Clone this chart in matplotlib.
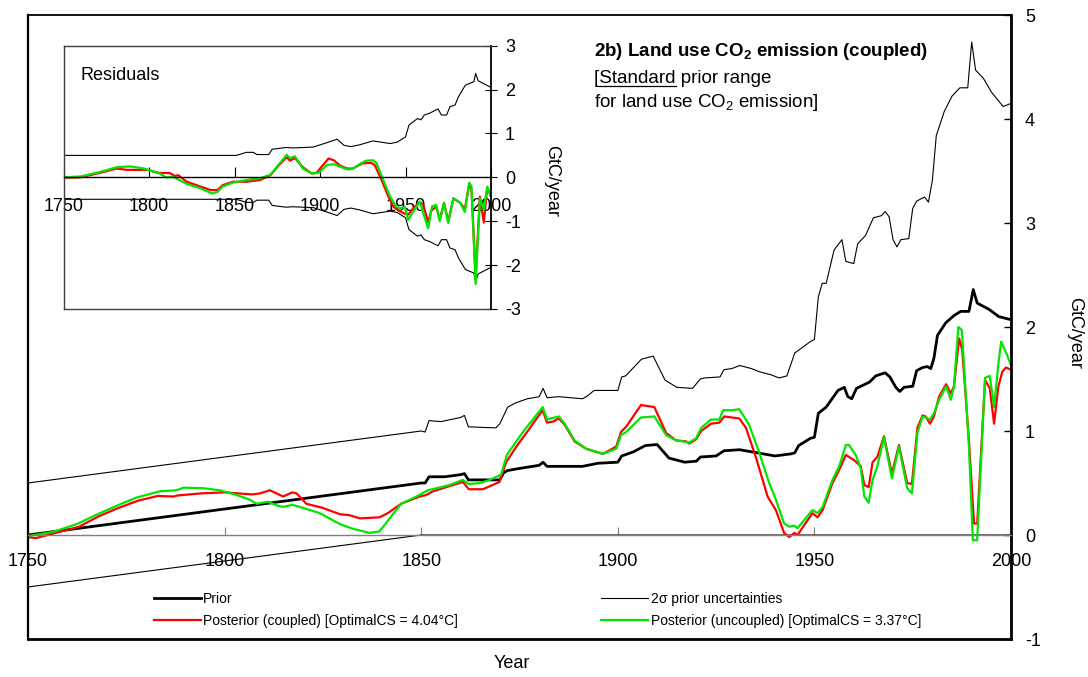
import matplotlib
matplotlib.use("Agg")
import matplotlib.pyplot as plt
from matplotlib.lines import Line2D

plt.rcParams['font.family'] = ['Liberation Sans', 'DejaVu Sans']
plt.rcParams['mathtext.fontset'] = 'custom'
plt.rcParams['mathtext.rm'] = 'Liberation Sans'
plt.rcParams['mathtext.bf'] = 'Liberation Sans:bold'
plt.rcParams['axes.unicode_minus'] = False

# ---- main panel data (GtC/year) ----
prior_yr = [1750, 1800, 1850, 1851, 1852, 1856, 1860, 1861, 1862, 1870, 1871, 1872, 1875, 1880,
            1881, 1882, 1891, 1895, 1900, 1901, 1904, 1907, 1910, 1913, 1917, 1920, 1921, 1925,
            1927, 1931, 1934, 1937, 1940, 1944, 1945, 1946, 1949, 1950, 1951, 1953, 1956, 1957.6,
            1958.5, 1959.5, 1960.7, 1964, 1965.6, 1968, 1969.2, 1970.7, 1971.7, 1972.8, 1975,
            1976, 1977.5, 1978.7, 1979.6, 1980.4, 1981.3, 1983.4, 1985.5, 1987.2, 1989.3, 1990.4,
            1991.4, 1994.4, 1996.9, 2000]
prior = [0.0, 0.25, 0.50, 0.50, 0.56, 0.56, 0.58, 0.59, 0.53, 0.53, 0.60, 0.62, 0.64, 0.67,
         0.70, 0.66, 0.66, 0.69, 0.70, 0.76, 0.80, 0.86, 0.87, 0.74, 0.70, 0.71, 0.75, 0.76,
         0.81, 0.82, 0.80, 0.78, 0.76, 0.78, 0.79, 0.86, 0.93, 0.94, 1.17, 1.23, 1.39, 1.42,
         1.33, 1.31, 1.41, 1.47, 1.53, 1.56, 1.52, 1.42, 1.38, 1.42, 1.43,
         1.58, 1.61, 1.62, 1.60, 1.70, 1.92, 2.04, 2.11, 2.15, 2.15, 2.36,
         2.23, 2.17, 2.10, 2.07]

upper_yr = [1750, 1850, 1851, 1852, 1855, 1860, 1861, 1862, 1869, 1870, 1872, 1874, 1877, 1880,
            1881, 1882, 1885, 1891, 1892, 1894, 1900, 1901, 1902, 1906, 1909, 1912, 1915, 1919,
            1921, 1922, 1926, 1927, 1929, 1931, 1934, 1936, 1939, 1941, 1943, 1945, 1949, 1950,
            1951, 1952, 1953, 1955, 1957, 1958, 1960, 1961, 1963, 1965, 1967, 1968, 1969, 1970,
            1971, 1972, 1974, 1975, 1976, 1978, 1979, 1980, 1981, 1983, 1985, 1987, 1989, 1990,
            1991, 1993, 1995, 1998, 2000]
upper = [0.50, 1.00, 0.99, 1.10, 1.09, 1.13, 1.15, 1.04, 1.03, 1.07, 1.23, 1.27, 1.31, 1.33,
         1.41, 1.32, 1.33, 1.31, 1.33, 1.39, 1.39, 1.52, 1.53, 1.69, 1.72, 1.49, 1.42, 1.41,
         1.50, 1.51, 1.52, 1.59, 1.60, 1.63, 1.60, 1.57, 1.54, 1.51, 1.53, 1.75, 1.86, 1.88,
         2.29, 2.42, 2.42, 2.74, 2.84, 2.63, 2.61, 2.80, 2.88, 3.05, 3.07, 3.11, 3.06, 2.84,
         2.77, 2.84, 2.85, 3.14, 3.21, 3.25, 3.20, 3.41, 3.84, 4.07, 4.22, 4.30, 4.30, 4.74,
         4.47, 4.39, 4.26, 4.12, 4.15]

lower_yr = [1750, 1850, 2000]
lower = [-0.50, 0.0, 0.0]

coupled_yr = [1750, 1752, 1756, 1763, 1768, 1773, 1778, 1783, 1787, 1788, 1794, 1800, 1807,
              1809, 1811.5, 1814.9, 1817.2, 1818.3, 1820.8, 1825, 1829.3, 1831.8, 1834.4, 1839.4,
              1841.5, 1844.9, 1849.6, 1851.3, 1853, 1860.6, 1862.1, 1865.7, 1869.9, 1871.6,
              1874.2, 1877.5, 1878.4, 1880.9, 1882, 1883.5, 1885, 1886.5, 1889, 1891.9, 1896.2,
              1899.6, 1900.8, 1902.1, 1905.9, 1909.3, 1912.3, 1914.8, 1917.4, 1918.2, 1919.9,
              1921.2, 1923.7, 1925.8, 1927.1, 1930.9, 1932.6, 1935.1, 1938.1, 1940.2, 1942.3,
              1943.6, 1944.9, 1945.7, 1949.5, 1950.8, 1952.1, 1954.6, 1956.3, 1958, 1960.1,
              1961.8, 1962.7, 1963.8, 1964.8, 1966, 1967.7, 1969.7, 1971.5, 1973.6, 1974.8,
              1976.2, 1977.5, 1978.3, 1979.4, 1980.4, 1981.7, 1983.5, 1984.7, 1985.5, 1986.8,
              1987.6, 1989.3, 1990.6, 1991.4, 1993.4, 1994.6, 1995.7, 1996.8, 1997.8, 1998.7, 2000]
coupled = [-0.02, -0.03, 0.01, 0.08, 0.18, 0.26, 0.33, 0.375, 0.37, 0.38, 0.40, 0.41, 0.39,
           0.40, 0.43, 0.37, 0.41, 0.40, 0.30, 0.26, 0.20, 0.19, 0.16, 0.17,
           0.21, 0.30, 0.37, 0.385, 0.42, 0.51, 0.44, 0.44, 0.51, 0.70,
           0.85, 1.02, 1.07, 1.20, 1.08, 1.09, 1.12, 1.06, 0.90, 0.83, 0.78,
           0.85, 0.99, 1.04, 1.25, 1.23, 0.98, 0.91, 0.90, 0.88, 0.92,
           1.00, 1.07, 1.08, 1.14, 1.12, 1.03, 0.75, 0.37, 0.24, 0.02,
           -0.02, 0.02, 0.0, 0.21, 0.17, 0.24, 0.50, 0.625, 0.77, 0.72,
           0.66, 0.48, 0.46, 0.70, 0.75, 0.95, 0.59, 0.865, 0.50, 0.49,
           1.03, 1.15, 1.14, 1.07, 1.14, 1.33, 1.45, 1.36, 1.43, 1.89,
           1.78, 0.91, 0.11, 0.11, 1.49, 1.41, 1.07, 1.43, 1.57, 1.61, 1.59]

uncoupled_yr = [1750, 1756.4, 1762.4, 1768.3, 1773.4, 1777.6, 1783.5, 1787.8, 1789.5, 1794.5,
                1798.8, 1803, 1806.4, 1808.1, 1811, 1813.6, 1814.9, 1817.2, 1820, 1824.2,
                1829.3, 1832.6, 1836.9, 1839.4, 1844.9, 1848.8, 1851.7, 1857.2, 1860.6, 1862.1,
                1864.9, 1867.4, 1870.3, 1871.8, 1875, 1877.5, 1878.4, 1880.9, 1882, 1885, 1886.5,
                1889, 1891.9, 1896.2, 1899.6, 1900.8, 1902.1, 1905.9, 1909.3, 1912.3, 1914.8,
                1918.2, 1919.9, 1921.2, 1923.7, 1925.8, 1926.8, 1929.2, 1930.9, 1933.4, 1935.9,
                1938.5, 1940.2, 1942.3, 1943.6, 1944.9, 1945.7, 1949.5, 1950.8, 1952.1, 1954.6,
                1956.3, 1958, 1958.8, 1960.5, 1961.8, 1962.7, 1963.8, 1964.8, 1966, 1967.7,
                1969.7, 1971.5, 1973.6, 1974.8, 1976.2, 1977.5, 1978.3, 1979.4, 1980.4, 1981.7,
                1983.5, 1984.7, 1985.5, 1986.6, 1987.5, 1989.3, 1990.3, 1991.4, 1993.4, 1994.6,
                1995.7, 1996.8, 1997.5, 1999, 2000]
uncoupled = [-0.01, 0.03, 0.105, 0.21, 0.295, 0.36, 0.42, 0.43, 0.455, 0.45,
             0.43, 0.385, 0.34, 0.30, 0.32, 0.28, 0.27, 0.29, 0.26, 0.21,
             0.105, 0.06, 0.02, 0.035, 0.30, 0.37, 0.43, 0.48, 0.53, 0.49,
             0.50, 0.53, 0.58, 0.77, 0.945, 1.07, 1.11, 1.23, 1.11, 1.14, 1.07,
             0.91, 0.83, 0.78, 0.83, 0.96, 0.99, 1.13, 1.14, 0.96, 0.91,
             0.89, 0.93, 1.03, 1.11, 1.11, 1.20, 1.20, 1.21, 1.06, 0.80,
             0.50, 0.34, 0.11, 0.08, 0.09, 0.065, 0.24, 0.21, 0.27, 0.53,
             0.66, 0.865, 0.865, 0.77, 0.64, 0.37, 0.31, 0.53, 0.66, 0.94,
             0.545, 0.85, 0.45, 0.40, 0.98, 1.14, 1.13, 1.11, 1.17, 1.30,
             1.43, 1.30, 1.43, 2.00, 1.97, 0.85, -0.05, -0.05, 1.51, 1.53,
             1.23, 1.65, 1.86, 1.73, 1.63]

# ---- inset (residuals) data ----
res_c_yr = [1750, 1760, 1771, 1781, 1787, 1799, 1806, 1812, 1815, 1817, 1822, 1830, 1836, 1840,
            1843, 1849, 1857, 1865, 1871, 1876, 1880.5, 1882.4, 1885.3, 1890, 1895, 1898, 1900,
            1905, 1908, 1912, 1916, 1919, 1923, 1925, 1930, 1932, 1936, 1940, 1943, 1946, 1949,
            1951.6, 1954.5, 1958.4, 1960.4, 1963.3, 1965, 1968, 1970, 1972.5, 1975, 1978, 1982,
            1984.7, 1987.3, 1988.6, 1991, 1993.5, 1995.8, 1997.8, 2000]
res_c = [-0.01, 0.0, 0.10, 0.20, 0.17, 0.17, 0.10, 0.10, 0.03, 0.05, -0.10, -0.21, -0.29, -0.29,
         -0.18, -0.10, -0.10, -0.06, 0.05, 0.28, 0.46, 0.38, 0.44, 0.23, 0.09, 0.10, 0.20,
         0.43, 0.39, 0.26, 0.20, 0.20, 0.28, 0.32, 0.33, 0.28, -0.06, -0.44, -0.67, -0.76, -0.82,
         -0.85, -0.71, -0.56, -0.63, -1.03, -0.76, -0.67, -0.97, -0.58, -1.00, -0.48, -0.58,
         -0.73, -0.14, -0.29, -2.26, -0.44, -1.03, -0.22, -0.44]

res_u_yr = [1750, 1760, 1771, 1781, 1789, 1797, 1806, 1810, 1814, 1822, 1830, 1837, 1840, 1843,
            1849, 1857, 1865, 1871, 1876, 1880.5, 1882.4, 1885.3, 1890, 1895, 1899, 1904, 1908,
            1912, 1916, 1919, 1924, 1927, 1931, 1933, 1937, 1941, 1944, 1946.6, 1949.6, 1951.6,
            1954.5, 1958.4, 1960.4, 1963.3, 1965.5, 1968, 1970, 1972.5, 1975, 1978, 1982, 1984.7,
            1987.3, 1988.6, 1991, 1993.5, 1995.8, 1997.8, 2000]
res_u = [0.0, 0.02, 0.12, 0.23, 0.25, 0.20, 0.09, 0.0, 0.01, -0.15, -0.25, -0.37, -0.33, -0.21,
         -0.12, -0.06, -0.02, 0.06, 0.30, 0.51, 0.44, 0.48, 0.20, 0.09, 0.10, 0.28, 0.30,
         0.24, 0.18, 0.19, 0.32, 0.38, 0.39, 0.33, -0.06, -0.44, -0.64, -0.71, -0.67, -0.97,
         -0.78, -0.55, -0.82, -1.16, -0.66, -0.63, -1.00, -0.58, -1.04, -0.48, -0.58, -0.79,
         -0.12, -0.21, -2.43, -0.48, -0.74, -0.21, -0.44]

res_unc_yr = [1750, 1851, 1857, 1861, 1863, 1870, 1872, 1880, 1884, 1896, 1904, 1910, 1914, 1918,
              1923, 1931, 1941, 1945, 1950, 1952, 1957, 1959, 1961, 1964, 1969, 1971, 1974, 1976,
              1979, 1981, 1985, 1990, 1991, 1992.5, 2000]
res_unc = [0.50, 0.50, 0.57, 0.57, 0.52, 0.52, 0.64, 0.68, 0.67, 0.69, 0.79, 0.87, 0.73, 0.70,
           0.74, 0.83, 0.77, 0.80, 0.92, 1.19, 1.34, 1.31, 1.42, 1.46, 1.56, 1.42, 1.42, 1.61,
           1.65, 1.84, 2.10, 2.18, 2.37, 2.20, 2.05]

year_ticks = [1750, 1800, 1850, 1900, 1950, 2000]
main_yticks = [-1, 0, 1, 2, 3, 4, 5]
inset_yticks = [-3, -2, -1, 0, 1, 2, 3]

RED = '#ff0000'
GREEN = '#00e600'

fig = plt.figure(figsize=(10.88, 6.77), dpi=100)

# ---- main panel ----
ax = fig.add_axes([28 / 1088, 38 / 677, 983 / 1088, 624 / 677])
ax.plot(upper_yr, upper, color='black', lw=0.8)
l_unc, = ax.plot(lower_yr, lower, color='black', lw=0.8, label='2σ prior uncertainties')
l_prior, = ax.plot(prior_yr, prior, color='black', lw=2.0, label='Prior')
l_red, = ax.plot(coupled_yr, coupled, color=RED, lw=1.6,
                 label='Posterior (coupled) [OptimalCS = 4.04°C]')
l_green, = ax.plot(uncoupled_yr, uncoupled, color=GREEN, lw=1.6,
                   label='Posterior (uncoupled) [OptimalCS = 3.37°C]')

ax.set_xlim(1750, 2000)
ax.set_ylim(-1, 5)
ax.set_xticks(year_ticks)
ax.set_yticks(main_yticks)
ax.spines['bottom'].set_position(('data', 0))
ax.spines['bottom'].set_color('#808080')
ax.spines['bottom'].set_linewidth(1.0)
ax.spines['left'].set_linewidth(1.6)
ax.spines['top'].set_linewidth(1.3)
ax.spines['right'].set_linewidth(2.0)
ax.plot([0, 1], [0, 0], transform=ax.transAxes, color='black', lw=2.0, clip_on=False)
ax.yaxis.tick_right()
ax.tick_params(axis='x', direction='in', length=6, color='#808080', labelsize=13, pad=13)
ax.tick_params(axis='y', direction='in', length=5, width=1, labelsize=13, pad=10)
fig.text(512 / 1088, 1 - 663 / 677, 'Year', fontsize=13, ha='center', va='center')
fig.text(1075 / 1088, 1 - 333 / 677, 'GtC/year', fontsize=13, ha='center', va='center',
         rotation=270)

ax.legend([l_prior, l_red, l_unc, l_green],
          [l_prior.get_label(), l_red.get_label(), l_unc.get_label(), l_green.get_label()],
          ncol=2, loc='upper left', bbox_to_anchor=(154 / 1088, 1 - 592 / 677),
          bbox_transform=fig.transFigure, frameon=False, fontsize=10,
          handlelength=3.4, handletextpad=0.15, columnspacing=10.3, labelspacing=0.55,
          borderpad=0, borderaxespad=0)

# ---- text block ----
tx = 594 / 1088
fig.text(tx, 1 - 55.7 / 677, r'2b) Land use CO$_\mathbf{2}$ emission (coupled)',
         fontsize=13.5, fontweight='bold', va='baseline')
line2 = '[Standard prior range'
fig.text(tx, 1 - 82.7 / 677, line2, fontsize=13.5, va='baseline')
fig.text(tx, 1 - 106.7 / 677, r'for land use CO$_2$ emission]', fontsize=13.5, va='baseline')

# ---- inset ----
ins = fig.add_axes([63.6 / 1088, 1 - 309 / 677, 427.4 / 1088, 263.3 / 677])
ins.plot(res_unc_yr, res_unc, color='black', lw=0.8)
ins.plot(res_unc_yr, [-v for v in res_unc], color='black', lw=0.8)
ins.plot(res_c_yr, res_c, color=RED, lw=1.6)
ins.plot(res_u_yr, res_u, color=GREEN, lw=1.6)
ins.set_xlim(1750, 2000)
ins.set_ylim(-3, 3)
ins.set_xticks(year_ticks)
ins.set_yticks(inset_yticks)
ins.spines['bottom'].set_position(('data', 0))
ins.spines['bottom'].set_linewidth(1.0)
for s in ['left', 'top']:
    ins.spines[s].set_color('#404040')
    ins.spines[s].set_linewidth(1.0)
ins.spines['right'].set_linewidth(1.3)
ins.plot([0, 1], [0, 0], transform=ins.transAxes, color='#404040', lw=1.0, clip_on=False)
ins.yaxis.tick_right()
ins.tick_params(axis='x', direction='in', length=7, labelsize=13, pad=15)
ins.tick_params(axis='y', direction='inout', length=8, labelsize=13, pad=6)
ins.text(80 / 1088, 1 - 79.5 / 677, 'Residuals', fontsize=13, transform=fig.transFigure,
         va='baseline')
fig.text(552 / 1088, 1 - 181 / 677, 'GtC/year', fontsize=13, ha='center', va='center',
         rotation=270)

# underline "Standard"
fig.canvas.draw()
r = fig.canvas.get_renderer()
t1 = fig.text(tx, 1 - 82.7 / 677, '[', fontsize=13.5, va='baseline')
w1 = t1.get_window_extent(r).width
t1.remove()
t2 = fig.text(tx, 1 - 82.7 / 677, '[Standard', fontsize=13.5, va='baseline')
w2 = t2.get_window_extent(r).width
t2.remove()
x0 = tx * 1088
uy = 1 - 85.5 / 677
fig.add_artist(Line2D([(x0 + w1) / 1088, (x0 + w2) / 1088], [uy, uy], color='black', lw=0.9))

fig.savefig('out.png', dpi=100)
